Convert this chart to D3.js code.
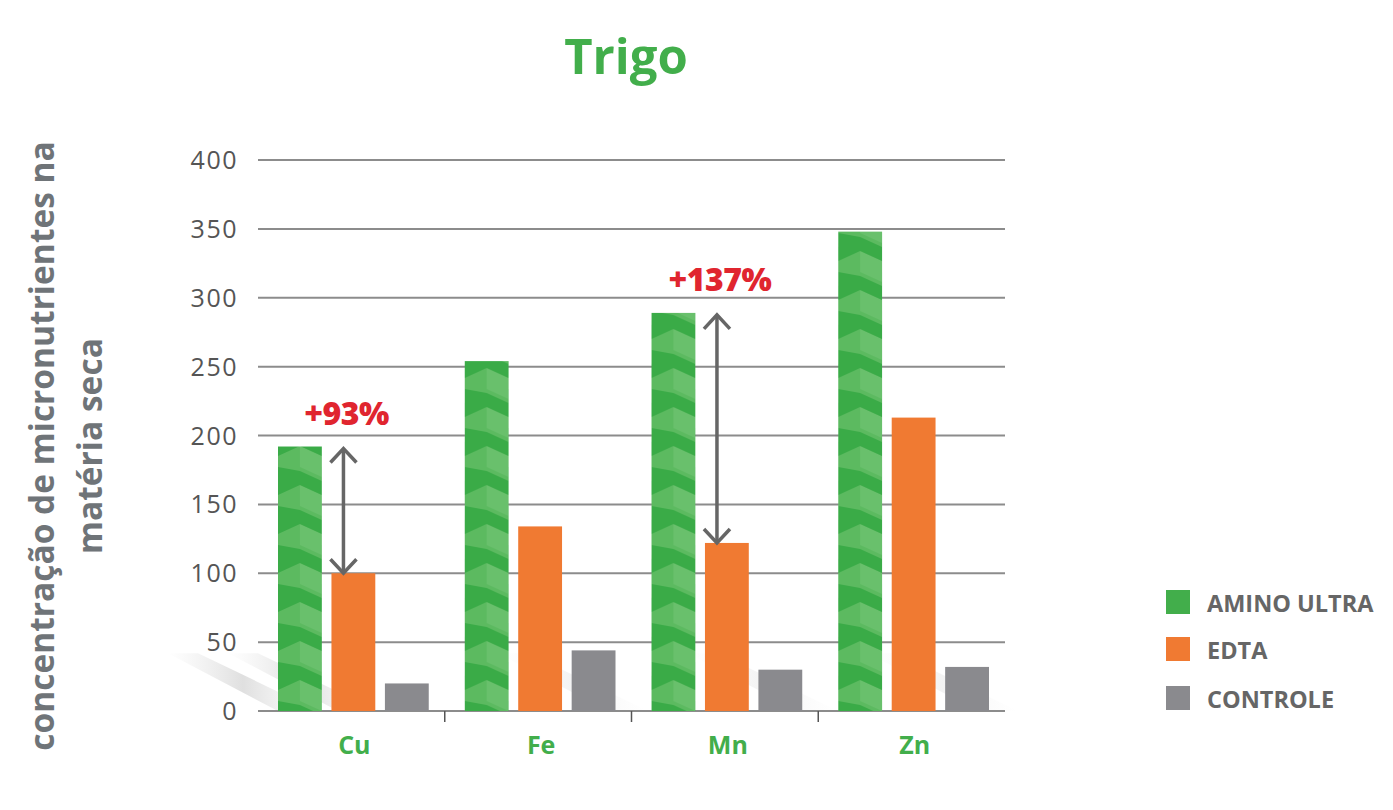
<!DOCTYPE html>
<meta charset="utf-8">
<head>
    <style>
        body {margin: 0; background: #fff;}
        text {font-family: "Open Sans", sans-serif;}
    </style>
    <script src="https://d3js.org/d3.v7.min.js"></script>
</head>
<body>
<script>

    var categories = ["Cu", "Fe", "Mn", "Zn"],
        series = ["AMINO ULTRA", "EDTA", "CONTROLE"],
        aminoUltra = [192, 254, 289, 348],
        edta = [100, 134, 122, 213],
        controle = [20, 44, 30, 32],
        yTicks = [0, 50, 100, 150, 200, 250, 300, 350, 400],
        notes = [{cat: "Cu", label: "+93%"}, {cat: "Mn", label: "+137%"}];

    var colors = ["#42ae4b", "#f07a32", "#8a8a8e"];
    var values = [aminoUltra, edta, controle];

    var width = 1393, height = 810;
    var margin = {top: 160, left: 258, right: 388, bottom: 99};

    var svg = d3.select("body").append("svg")
        .attr("width", width)
        .attr("height", height);

    var x = d3.scaleBand()
        .domain(categories)
        .range([margin.left, width - margin.right])
        .paddingInner(0);

    var xs = d3.scaleBand()
        .domain(series)
        .range([20, x.bandwidth() - 16])
        .paddingInner(0.18);

    var y = d3.scaleLinear()
        .domain([0, 400])
        .range([height - margin.bottom, margin.top]);

    // faint swoosh behind bars
    var defs = svg.append("defs");
    var grad = defs.append("linearGradient").attr("id", "sw")
        .attr("x1", 0).attr("x2", 1).attr("y1", 0).attr("y2", 0);
    grad.append("stop").attr("offset", 0).attr("stop-color", "#e4e4e4").attr("stop-opacity", 0);
    grad.append("stop").attr("offset", 0.5).attr("stop-color", "#d8d8d8").attr("stop-opacity", 0.9);
    grad.append("stop").attr("offset", 1).attr("stop-color", "#e8e8e8").attr("stop-opacity", 0);
    [[0, 0], [60, 0], [330, 0], [520, 0], [700, 0]].forEach(function(o, i) {
        var x0 = margin.left - 90 + o[0];
        svg.append("path")
            .attr("d", "M" + x0 + "," + y(42) + " L" + (x0 + 30) + "," + y(42) + " L" + (x0 + 150) + "," + y(0) + " L" + (x0 + 110) + "," + y(0) + "Z")
            .attr("fill", "url(#sw)")
            .attr("opacity", i < 2 ? 0.9 : 0.35);
    });

    // grid
    svg.append("g").selectAll("line")
        .data(yTicks)
      .enter().append("line")
        .attr("x1", margin.left)
        .attr("x2", width - margin.right)
        .attr("y1", function(d) {return y(d)})
        .attr("y2", function(d) {return y(d)})
        .attr("stroke", "#8c8c8c")
        .attr("stroke-width", 2);

    svg.append("g").selectAll("text")
        .data(yTicks)
      .enter().append("text")
        .attr("x", margin.left - 20)
        .attr("y", function(d) {return y(d)})
        .attr("dy", "0.36em")
        .attr("text-anchor", "end")
        .attr("fill", "#555")
        .style("font-size", "25px")
        .style("letter-spacing", "1.5px")
        .text(function(d) {return d});

    // group separators
    svg.append("g").selectAll("line")
        .data(categories.slice(1))
      .enter().append("line")
        .attr("x1", function(d) {return x(d)})
        .attr("x2", function(d) {return x(d)})
        .attr("y1", y(0))
        .attr("y2", y(0) + 11)
        .attr("stroke", "#555")
        .attr("stroke-width", 1.5);

    // patterned green bars
    categories.forEach(function(c, i) {
        var bx = x(c) + xs(series[0]);
        var p = defs.append("pattern")
            .attr("id", "pat" + i)
            .attr("patternUnits", "userSpaceOnUse")
            .attr("x", bx).attr("y", y(0) + 4)
            .attr("width", xs.bandwidth()).attr("height", 39);
        var w = xs.bandwidth();
        p.append("rect").attr("width", w).attr("height", 39).attr("fill", "#5cba60");
        p.append("polygon")
            .attr("points", [[w/2, 4], [w, 14], [w, 35], [w/2, 25]].join(" "))
            .attr("fill", "#69c06c");
        p.append("polygon")
            .attr("points", [[0, 0], [w/2, -10], [w, 0], [w, 14], [w/2, 4], [0, 14]].join(" "))
            .attr("fill", "#3aab47");
        p.append("polygon")
            .attr("points", [[0, 25], [w/2, 29], [w, 39], [w, 53], [w/2, 43], [0, 53]].join(" "))
            .attr("fill", "#3aab47");
    });

    var groups = svg.append("g").selectAll("g")
        .data(series)
      .enter().append("g");

    groups.each(function(s, si) {
        d3.select(this).selectAll("rect")
            .data(values[si])
          .enter().append("rect")
            .attr("x", function(d, i) {return x(categories[i]) + xs(s)})
            .attr("y", function(d) {return y(d)})
            .attr("width", xs.bandwidth())
            .attr("height", function(d) {return y(0) - y(d)})
            .attr("fill", function(d, i) {return si == 0 ? "url(#pat" + i + ")" : colors[si]});
    });

    // category labels
    svg.append("g").selectAll("text")
        .data(categories)
      .enter().append("text")
        .attr("x", function(d) {return x(d) + x.bandwidth() / 2 + 3})
        .attr("y", y(0) + 43)
        .attr("text-anchor", "middle")
        .attr("fill", "#42ae4b")
        .style("font-size", "25px")
        .style("font-weight", "bold")
        .text(function(d) {return d});

    // arrows + percentages
    notes.forEach(function(n) {
        var i = categories.indexOf(n.cat);
        var ax = x(n.cat) + xs(series[1]) + 12;
        var top = y(aminoUltra[i]) + 2, bot = y(edta[i]);
        var g = svg.append("g").attr("stroke", "#666").attr("stroke-width", 3.5).attr("fill", "none");
        g.append("line").attr("x1", ax).attr("x2", ax).attr("y1", top + 1).attr("y2", bot - 1);
        g.append("path").attr("d", "M" + (ax - 13) + "," + (top + 14) + " L" + ax + "," + top + " L" + (ax + 13) + "," + (top + 14));
        g.append("path").attr("d", "M" + (ax - 13) + "," + (bot - 14) + " L" + ax + "," + bot + " L" + (ax + 13) + "," + (bot - 14));
        svg.append("text")
            .attr("x", ax + 3)
            .attr("y", top - 24)
            .attr("text-anchor", "middle")
            .attr("fill", "#e0252f")
            .style("font-size", "32px")
            .style("font-weight", "800")
            .style("letter-spacing", "-0.5px")
            .text(n.label);
    });

    // title
    svg.append("text")
        .attr("x", 626)
        .attr("y", 74)
        .attr("text-anchor", "middle")
        .attr("fill", "#42ae4b")
        .style("font-size", "49px")
        .style("font-weight", "bold")
        .text("Trigo");

    // y axis title
    var yt = svg.append("text")
        .attr("transform", "translate(42," + 446 + ") rotate(-90)")
        .attr("text-anchor", "middle")
        .attr("fill", "#6f7478")
        .style("font-size", "33.5px")
        .style("font-weight", "bold");
    yt.append("tspan").attr("x", 0).attr("y", 12).text("concentração de micronutrientes na");
    yt.append("tspan").attr("x", 0).attr("y", 60).text("matéria seca");

    // legend
    var leg = svg.append("g").selectAll("g")
        .data(series)
      .enter().append("g")
        .attr("transform", function(d, i) {return "translate(1166," + [590, 637, 686][i] + ")"});
    leg.append("rect")
        .attr("width", 24).attr("height", 24)
        .attr("fill", function(d, i) {return colors[i]});
    leg.append("text")
        .attr("x", 41).attr("y", 14).attr("dy", "0.36em")
        .attr("fill", "#666")
        .style("font-size", "23.5px")
        .style("font-weight", "bold")
        .text(function(d) {return d});

</script>
</body>
